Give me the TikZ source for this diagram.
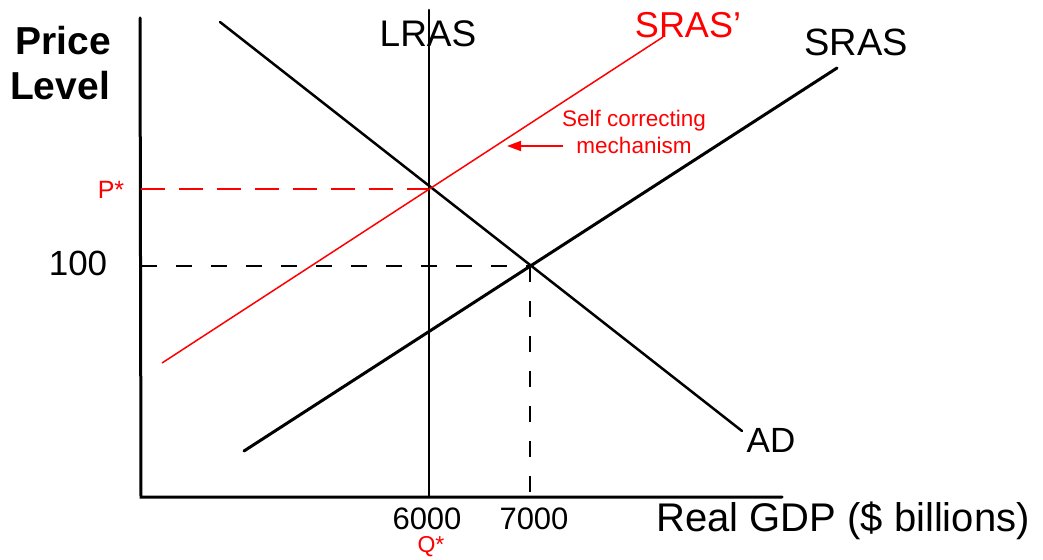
\documentclass[tikz,border=0pt]{standalone}
\usepackage{fontspec}
\setmainfont{Liberation Sans}
\usetikzlibrary{arrows.meta}
\definecolor{redline}{RGB}{255,0,0}
\tikzset{
  axis/.style={line width=3pt, line cap=round},
  curve/.style={line width=2.5pt, line cap=round},
  redcurve/.style={line width=1.5pt, redline},
  blackdash/.style={line width=2.8pt, dash pattern=on 16pt off 19pt},
  reddash/.style={line width=1.5pt, redline, dash pattern=on 24pt off 14pt},
  lbl/.style={inner sep=0pt, anchor=center},
}
\begin{document}
\begin{tikzpicture}[x=1pt,y=-1pt]
\useasboundingbox[fill=white] (0,0) rectangle (1043,559);
% coordinates
\coordinate (O) at (141,497);
\coordinate (Ytop) at (140,18);
\coordinate (Xend) at (782,497);
\coordinate (LRtop) at (429,10);
\coordinate (LRbot) at (429,497);
\coordinate (ADs) at (220,22);
\coordinate (ADe) at (742,431);
\coordinate (SRs) at (244,451);
\coordinate (SRe) at (837,68);
\coordinate (SRPs) at (162,363);
\coordinate (SRPe) at (663,37);
\coordinate (E1) at (429,189);
\coordinate (E2) at (530,266);
\coordinate (Py) at (141,189);
\coordinate (Hy) at (141,266);
\coordinate (Qx) at (530,497);
\coordinate (Ar1) at (563,146);
\coordinate (Ar2) at (507,146);
% axes
\draw[axis] (Ytop) -- (O) -- (Xend);
% dashed guides
\draw[reddash] (Py) -- (E1);
\draw[blackdash] (Hy) -- (E2);
\draw[blackdash] (E2) -- (Qx);
% curves
\draw[curve] (LRtop) -- (LRbot);
\draw[curve] (ADs) -- (ADe);
\draw[curve, line width=3pt] (SRs) -- (SRe);
\draw[redcurve] (SRPs) -- (SRPe);
% arrow
\draw[redline, line width=1.8pt, -{Triangle[length=14pt,width=10pt]}] (Ar1) -- (Ar2);
% labels
\node[lbl, font=\bfseries\fontsize{39}{42}\selectfont] (price) at (63,41) {Price};
\node[lbl, font=\bfseries\fontsize{39}{42}\selectfont] (level) at (60,86) {Level};
\node[lbl, font=\fontsize{35}{40}\selectfont] (l100) at (78,263) {100};
\node[lbl, font=\fontsize{25}{30}\selectfont, text=redline] (pstar) at (111,190) {P*};
\node[lbl, font=\fontsize{37}{40}\selectfont] (lras) at (428,34) {LRAS};
\node[lbl, font=\fontsize{36}{40}\selectfont, text=redline] (srasp) at (688,25) {SRAS’};
\node[lbl, font=\fontsize{38}{40}\selectfont] (sras) at (856,42) {SRAS};
\node[lbl, font=\fontsize{22.5}{27}\selectfont, text=redline, align=center] (self) at (634,132) {Self correcting\\mechanism};
\node[lbl, font=\fontsize{35}{40}\selectfont] (ad) at (771,440) {AD};
\node[lbl, font=\fontsize{31}{34}\selectfont] (q6) at (427,519) {6000};
\node[lbl, font=\fontsize{31}{34}\selectfont] (q7) at (534,519) {7000};
\node[lbl, font=\fontsize{23}{26}\selectfont, text=redline] (qstar) at (431,547) {Q*};
\node[lbl, font=\fontsize{40}{44}\selectfont] (xlab) at (843,521) {Real GDP (\$ billions)};
\end{tikzpicture}
\end{document}
